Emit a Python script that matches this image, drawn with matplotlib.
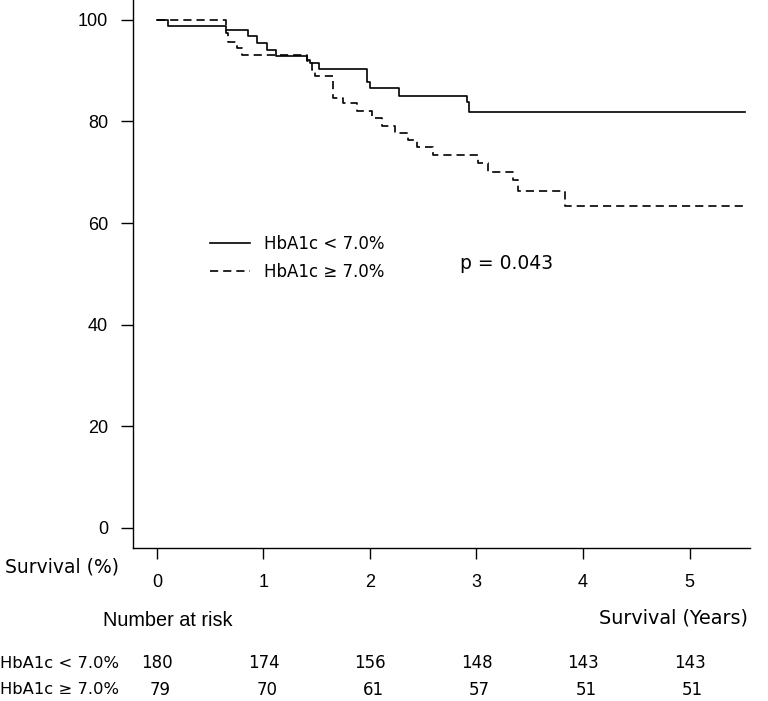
import matplotlib
matplotlib.use("Agg")
import matplotlib.pyplot as plt
import matplotlib.transforms as mtransforms

# Kaplan-Meier steps
years_low = [0, 0.107, 0.648, 0.858, 0.936, 1.03, 1.114, 1.405, 1.437, 1.524,
             1.975, 2.0, 2.27, 2.91, 2.93, 5.52]
surv_low = [100, 98.8, 97.9, 96.9, 95.4, 94.1, 92.9, 92.1, 91.6, 90.4,
            87.7, 86.6, 85.0, 83.9, 81.8, 81.8]

years_high = [0, 0.65, 0.67, 0.748, 0.795, 1.405, 1.46, 1.48, 1.656, 1.75,
              1.875, 2.016, 2.11, 2.235, 2.36, 2.44, 2.595, 3.017, 3.11,
              3.346, 3.39, 3.83, 5.52]
surv_high = [100, 97.4, 95.7, 94.4, 93.1, 91.8, 90.2, 89.0, 84.7, 83.6,
             82.1, 80.6, 79.1, 77.7, 76.4, 74.9, 73.4, 71.8, 70.1,
             68.5, 66.4, 63.4, 63.4]

risk_years = [0, 1, 2, 3, 4, 5]
risk_low = [180, 174, 156, 148, 143, 143]
risk_high = [79, 70, 61, 57, 51, 51]

label_low = "HbA1c < 7.0%"
label_high = "HbA1c \u2265 7.0%"

body_font = "DejaVu Sans"
tick_font = "Liberation Sans"

fig = plt.figure(figsize=(7.68, 7.01), dpi=100)
ax = fig.add_axes([133 / 768, 1 - 548 / 701, (750 - 133) / 768, 548 / 701])

ax.step(years_low, surv_low, where="post", color="black", lw=1.2, label=label_low)
ax.step(years_high, surv_high, where="post", color="black", lw=1.2,
        linestyle=(0, (4.9, 3.0)), label=label_high)

ax.set_xlim(-0.225, 5.568)
ax.set_ylim(-3.94, 103.9)
ax.set_xticks(risk_years)
ax.set_yticks([0, 20, 40, 60, 80, 100])
ax.spines["top"].set_visible(False)
ax.spines["right"].set_visible(False)
for s in ["left", "bottom"]:
    ax.spines[s].set_linewidth(1.0)
ax.tick_params(axis="y", length=9, width=1.0, pad=9, labelsize=13)
ax.tick_params(axis="x", length=8, width=1.0, pad=11, labelsize=13)
for lab in ax.get_xticklabels() + ax.get_yticklabels():
    lab.set_fontfamily(tick_font)

leg = ax.legend(loc="upper left", bbox_to_anchor=(0.1, 0.598), frameon=False,
                handlelength=2.4, handletextpad=0.85, labelspacing=0.6,
                prop={"family": body_font, "size": 12})

ax.text(0.53, 0.519, "p = 0.043", transform=ax.transAxes, ha="left", va="center",
        fontsize=13.5, family=body_font)

fig.text(5 / 768, 1 - 567 / 701, "Survival (%)", ha="left", va="center",
         fontsize=13.5, family=body_font)
fig.text(103 / 768, 1 - 621 / 701, "Number at risk", ha="left", va="center",
         fontsize=14.3, family=tick_font)
fig.text(748 / 768, 1 - 618 / 701, "Survival (Years)", ha="right", va="center",
         fontsize=13.8, family=body_font)
fig.text(0 / 768, 1 - 663 / 701, label_low, ha="left", va="center",
         fontsize=11.8, family=body_font)
fig.text(0 / 768, 1 - 690 / 701, label_high, ha="left", va="center",
         fontsize=11.8, family=body_font)

trans = mtransforms.blended_transform_factory(ax.transData, fig.transFigure)
for yr, a, b in zip(risk_years, risk_low, risk_high):
    ax.text(yr, 1 - 663 / 701, str(a), transform=trans, ha="center", va="center",
            fontsize=12, family=body_font)
    ax.text(yr + 0.03, 1 - 690 / 701, str(b), transform=trans, ha="center",
            va="center", fontsize=12, family=body_font)

fig.savefig("out.png", dpi=100)
